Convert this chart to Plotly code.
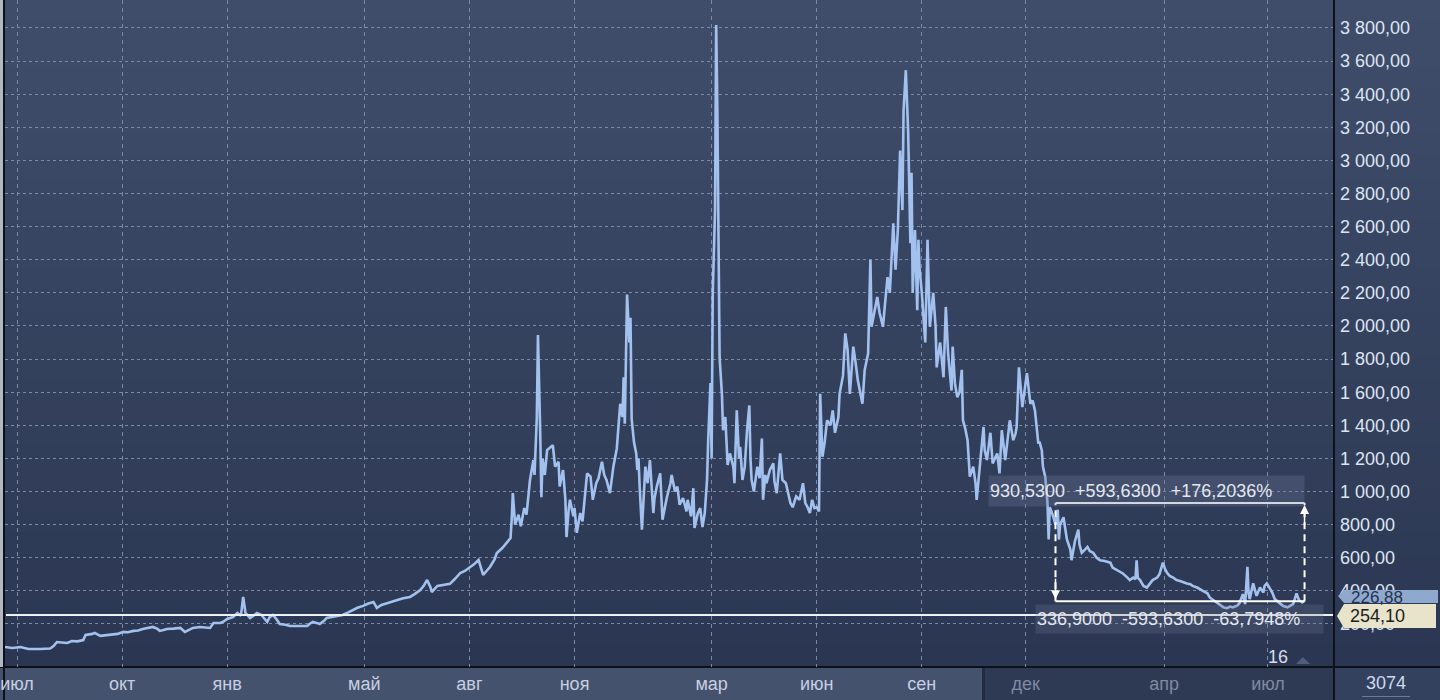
import pandas as pd
import plotly.graph_objects as go

# ---------------- data ----------------
start_date = "2020-07-01"

day_offsets = [
    -11, -4, 3, 10, 20, 29, 32, 35, 39, 44, 48, 53, 58, 60, 66, 68, 73, 78, 84, 88,
    93, 97, 102, 106, 110, 115, 119, 123, 125, 129, 131, 137, 143, 147, 151, 154, 160, 165, 169, 172,
    178, 181, 184, 189, 193, 196, 198, 200, 204, 207, 210, 214, 219, 221, 224, 227, 230, 235, 239, 248,
    254, 256, 259, 263, 265, 269, 271, 278, 285, 290, 294, 298, 303, 307, 312, 315, 319, 324, 328, 333,
    338, 344, 348, 353, 356, 359, 362, 363, 368, 373, 379, 383, 388, 392, 397, 400, 404, 406, 408, 411,
    414, 418, 420, 425, 429, 432, 433, 434, 436, 439, 441, 444, 446, 449, 452, 453, 455, 456, 458, 459,
    460, 462, 464, 467, 469, 471, 474, 475, 478, 480, 481, 483, 484, 487, 488, 490, 493, 495, 497, 499,
    502, 504, 507, 509, 512, 514, 516, 519, 522, 525, 528, 530, 531, 532, 534, 536, 537, 538, 540, 542,
    543, 544, 545, 547, 550, 552, 554, 557, 558, 560, 563, 565, 567, 569, 572, 573, 576, 578, 580, 583,
    586, 587, 590, 592, 593, 596, 598, 600, 602, 604, 605, 607, 608, 609, 611, 612, 613, 614, 615, 617,
    618, 620, 621, 622, 624, 627, 628, 630, 632, 633, 635, 637, 639, 641, 642, 643, 645, 648, 650, 652,
    653, 655, 656, 659, 662, 663, 665, 668, 670, 673, 677, 679, 682, 685, 688, 690, 692, 694, 696, 698,
    700, 702, 703, 705, 707, 709, 712, 714, 716, 719, 720, 723, 725, 727, 729, 732, 734, 736, 740, 742,
    745, 747, 748, 751, 753, 755, 758, 760, 762, 764, 767, 769, 771, 773, 775, 776, 778, 780, 782, 783,
    784, 786, 788, 789, 790, 792, 795, 797, 799, 802, 804, 805, 808, 811, 813, 815, 817, 818, 819, 821,
    823, 825, 827, 828, 830, 832, 834, 837, 839, 840, 843, 846, 847, 849, 852, 854, 856, 858, 860, 862,
    865, 867, 869, 872, 874, 875, 877, 880, 882, 884, 887, 889, 891, 894, 895, 897, 898, 900, 902, 903,
    904, 907, 909, 911, 912, 913, 916, 918, 919, 922, 923, 926, 929, 930, 932, 935, 937, 939, 942, 945,
    948, 952, 957, 959, 963, 965, 968, 972, 974, 977, 979, 980, 981, 983, 986, 989, 992, 994, 998, 1000,
    1003, 1005, 1007, 1009, 1012, 1015, 1018, 1021, 1024, 1027, 1029, 1033, 1035, 1038, 1042, 1044, 1047, 1050, 1053, 1056,
    1059, 1062, 1064, 1068, 1070, 1073, 1075, 1077, 1078, 1079, 1082, 1084, 1085, 1088, 1091, 1092, 1094, 1097, 1099, 1101,
    1103, 1106, 1108, 1112, 1115, 1117, 1120, 1122, 1125, 1127,
]

prices = [
    61, 55, 61, 49, 49, 52, 67, 91, 88, 85, 97, 95, 103, 134, 140, 146, 128, 132, 134, 140,
    152, 150, 158, 160, 170, 175, 182, 170, 158, 165, 170, 172, 176, 152, 165, 176, 182, 180, 176, 206,
    206, 215, 230, 242, 266, 250, 363, 266, 236, 250, 266, 254, 212, 240, 254, 230, 200, 195, 188, 188,
    188, 200, 212, 205, 200, 220, 236, 245, 254, 270, 285, 298, 309, 322, 333, 297, 315, 327, 335, 345,
    355, 363, 380, 405, 430, 466, 420, 393, 430, 437, 442, 470, 508, 520, 544, 560, 587, 540, 496, 520,
    544, 590, 629, 660, 695, 719, 830, 990, 800, 860, 790, 900, 860, 1069, 1190, 1100, 1450, 1945, 1350, 965,
    1200, 1100, 1250, 1268, 1280, 1150, 1180, 1030, 1130, 950, 725, 900, 950, 850, 900, 750, 870, 820, 950, 1110,
    1090, 950, 1050, 1080, 1180, 1100, 1070, 990, 1150, 1260, 1530, 1450, 1690, 1410, 2190, 1900, 2050, 1440, 1300, 1230,
    1130, 1200, 1030, 770, 1150, 1050, 1190, 870, 960, 1030, 1110, 830, 900, 970, 1050, 1100, 1000, 1030, 920, 960,
    880, 950, 850, 1020, 780, 870, 900, 785, 870, 1070, 1310, 1655, 1200, 2200, 2700, 3818, 3311, 2300, 1810, 1590,
    1370, 1450, 1250, 1160, 1230, 1150, 1050, 1490, 1200, 1270, 1070, 1150, 1370, 1520, 1200, 1070, 1000, 1150, 1080, 1320,
    950, 1100, 1050, 1130, 1170, 1060, 990, 1230, 1070, 1050, 930, 905, 970, 950, 1050, 930, 905, 870, 950, 900,
    905, 880, 1590, 1210, 1300, 1430, 1400, 1490, 1355, 1450, 1590, 1700, 1955, 1855, 1590, 1875, 1780, 1670, 1530, 1735,
    1835, 2400, 1995, 2100, 2175, 2080, 1995, 2150, 2295, 2200, 2620, 2340, 2580, 3060, 2700, 3300, 3545, 3180, 2500, 2925,
    2200, 2580, 2095, 2520, 2350, 2200, 1900, 2520, 1995, 2200, 2000, 1750, 1900, 1690, 2115, 1835, 1700, 1610, 1875, 1650,
    1570, 1600, 1735, 1430, 1380, 1310, 1090, 1150, 1050, 950, 1170, 1390, 1250, 1190, 1355, 1170, 1200, 1230, 1110, 1370,
    1190, 1300, 1430, 1310, 1350, 1390, 1750, 1510, 1600, 1715, 1530, 1550, 1490, 1290, 1300, 1250, 1150, 1090, 930, 710,
    905, 850, 800, 890, 710, 800, 845, 760, 710, 650, 585, 700, 770, 680, 630, 650, 665, 640, 630, 600,
    585, 580, 570, 540, 525, 520, 505, 480, 465, 480, 470, 585, 480, 465, 430, 420, 450, 465, 480, 500,
    570, 530, 505, 490, 480, 465, 460, 450, 445, 440, 430, 420, 410, 400, 385, 360, 345, 330, 315, 300,
    295, 305, 300, 310, 325, 380, 320, 545, 385, 350, 445, 400, 370, 420, 390, 430, 445, 410, 385, 350,
    340, 325, 310, 300, 310, 320, 385, 345, 330, 340,
]

x_tick_dates = ["2020-07-01", "2020-10-01", "2021-01-01", "2021-05-01", "2021-08-01", "2021-11-01",
                "2022-03-01", "2022-06-01", "2022-09-01", "2022-12-01", "2023-04-01", "2023-07-01"]
x_tick_labels = ["июл", "окт", "янв", "май", "авг", "ноя", "мар", "июн", "сен", "дек", "апр", "июл"]
x_tick_dimmed = [False, False, False, False, False, False, False, False, False, True, True, True]

y_tick_values = [200, 400, 600, 800, 1000, 1200, 1400, 1600, 1800, 2000,
                 2200, 2400, 2600, 2800, 3000, 3200, 3400, 3600, 3800]

level_price = 254.10
last_price = 226.88
measure_high = 930.53
measure_low = 336.90
measure_start = "2022-12-27"
measure_end = "2023-08-02"
bars_count = "3074"
counter_label = "16"

# ---------------- helpers ----------------
dates = pd.Timestamp(start_date) + pd.to_timedelta(day_offsets, unit="D")

W, H = 1440, 700
ML, MR, MT, MB = 5, 107, 0, 33
PW, PH = W - ML - MR, H - MT - MB


def px(x):
    return (x - ML) / PW


def py(y):
    return (H - MB - y) / PH


def fmt(v, nd):
    return f"{v:.{nd}f}".replace(".", ",")


FONT = "Liberation Sans, Arial, sans-serif"

fig = go.Figure()
fig.add_trace(go.Scatter(
    x=dates, y=prices, mode="lines",
    line=dict(color="#a3c1ee", width=2.6),
    hoverinfo="skip", showlegend=False,
))

shapes = []
# gradient background
top_c = (63, 77, 107)
bot_c = (43, 55, 82)
N = 30
for i in range(N):
    t = i / (N - 1)
    c = tuple(round(top_c[k] + (bot_c[k] - top_c[k]) * t) for k in range(3))
    y0 = i * (H - MB) / N
    y1 = (i + 1) * (H - MB) / N + 1
    shapes.append(dict(type="rect", xref="paper", yref="paper", layer="below",
                       x0=px(0), x1=px(W), y0=py(y1), y1=py(y0),
                       fillcolor=f"rgb{c}", line_width=0))


def prect(x0, y0, x1, y1, color, layer="below"):
    shapes.append(dict(type="rect", xref="paper", yref="paper", layer=layer,
                       x0=px(x0), x1=px(x1), y0=py(y1), y1=py(y0),
                       fillcolor=color, line_width=0))


prect(0, 667, 982, 700, "rgb(69,82,110)")
prect(982, 667, 985, 700, "rgb(35,43,60)")
prect(985, 667, 1335, 700, "rgb(46,57,84)")
prect(1335, 667, 1440, 700, "rgb(52,65,94)")
prect(0, 666, 1440, 668, "rgb(14,17,24)")
prect(1333, 0, 1335, 700, "rgb(14,17,24)")
prect(0, 0, 3, 667, "rgb(178,184,194)")
prect(3, 0, 5, 700, "rgb(14,17,24)")
prect(1362, 696, 1410, 697, "rgb(110,122,148)")

# level line
shapes.append(dict(type="line", xref="paper", yref="y", layer="above",
                   x0=px(6), x1=1.0, y0=level_price, y1=level_price,
                   line=dict(color="#f0f0f0", width=2)))

# measurement box
shapes.append(dict(type="line", xref="x", yref="y", x0=measure_start, x1=measure_end,
                   y0=measure_high, y1=measure_high, line=dict(color="white", width=2)))
shapes.append(dict(type="line", xref="x", yref="y", x0=measure_start, x1=measure_end,
                   y0=measure_low, y1=measure_low, line=dict(color="white", width=2)))
shapes.append(dict(type="line", xref="x", yref="y", x0=measure_start, x1=measure_start,
                   y0=measure_low, y1=measure_high, line=dict(color="white", width=2, dash="7px,5px")))
shapes.append(dict(type="line", xref="x", yref="y", x0=measure_end, x1=measure_end,
                   y0=measure_low, y1=measure_high, line=dict(color="white", width=2, dash="7px,5px")))


def ppath(pts, color):
    d = "M " + " L ".join(f"{px(a)},{py(b)}" for a, b in pts) + " Z"
    shapes.append(dict(type="path", xref="paper", yref="paper", layer="above",
                       path=d, fillcolor=color, line_width=0))


ppath([(1338, 596), (1344, 590), (1438, 590), (1438, 603), (1344, 603)], "rgb(142,168,206)")
ppath([(1337, 616), (1344, 604), (1436, 604), (1436, 628), (1344, 628)], "rgb(232,228,204)")
ppath([(1296, 664), (1303, 657), (1310, 664)], "rgba(120,132,158,0.5)")

diff = measure_high - measure_low
up_pct = diff / measure_low * 100
down_pct = -diff / measure_high * 100
nb = "\u00a0\u00a0"
top_text = f"{fmt(measure_high, 4)}{nb}+{fmt(diff, 4)}{nb}+{fmt(up_pct, 4)}%"
bot_text = f"{fmt(measure_low, 4)}{nb}-{fmt(diff, 4)}{nb}{fmt(down_pct, 4)}%"

annotations = [
    dict(xref="paper", yref="paper", x=px(988), y=py(491), xanchor="left", yanchor="middle",
         text=top_text, showarrow=False, width=313, height=28, align="left",
         bgcolor="rgba(110,124,152,0.3)", font=dict(family=FONT, size=18, color="#e2e7f0")),
    dict(xref="paper", yref="paper", x=px(1035), y=py(619), xanchor="left", yanchor="middle",
         text=bot_text, showarrow=False, width=285, height=26, align="left",
         bgcolor="rgba(110,124,152,0.25)", font=dict(family=FONT, size=18, color="#e2e7f0")),
    dict(xref="x", yref="y", x=measure_start, y=measure_low, ax=0, ay=-24, text="",
         showarrow=True, arrowhead=2, arrowsize=1.2, arrowwidth=1.5, arrowcolor="white", standoff=2),
    dict(xref="x", yref="y", x=measure_end, y=measure_high, ax=0, ay=24, text="",
         showarrow=True, arrowhead=2, arrowsize=1.2, arrowwidth=1.5, arrowcolor="white", standoff=2),
    dict(xref="paper", yref="paper", x=px(1349), y=py(597), xanchor="left", yanchor="middle",
         text=fmt(last_price, 2), showarrow=False, font=dict(family=FONT, size=17, color="#24324e")),
    dict(xref="paper", yref="paper", x=px(1348), y=py(616), xanchor="left", yanchor="middle",
         text=fmt(level_price, 2), showarrow=False, font=dict(family=FONT, size=18, color="#1c1c1c")),
    dict(xref="paper", yref="paper", x=px(1278), y=py(657), xanchor="center", yanchor="middle",
         text=counter_label, showarrow=False, font=dict(family=FONT, size=18, color="#d6dde9")),
    dict(xref="paper", yref="paper", x=px(1386), y=py(683), xanchor="center", yanchor="middle",
         text=bars_count, showarrow=False, font=dict(family=FONT, size=18, color="#cdd9ee")),
]

ticktext = [
    f'<span style="color:#7f8aa2">{t}</span>' if dim else t
    for t, dim in zip(x_tick_labels, x_tick_dimmed)
]

fig.update_layout(
    width=W, height=H,
    margin=dict(l=ML, r=MR, t=MT, b=MB, pad=0),
    paper_bgcolor="rgb(50,62,90)",
    plot_bgcolor="rgba(0,0,0,0)",
    separators=", ",
    font=dict(family=FONT),
    showlegend=False,
    shapes=shapes,
    annotations=annotations,
    xaxis=dict(
        type="date",
        range=["2020-06-20 12:00", "2023-08-26 21:36"],
        tickvals=x_tick_dates, ticktext=ticktext,
        showgrid=True, gridcolor="#7b89a6", gridwidth=1, griddash="4px,4px",
        ticks="", ticklabelstandoff=4, zeroline=False, showline=False,
        tickfont=dict(family=FONT, size=18, color="#c7cfe0"),
        fixedrange=True,
    ),
    yaxis=dict(
        side="right", range=[-60, 3969],
        tickvals=y_tick_values, tickformat=",.2f",
        showgrid=True, gridcolor="#7b89a6", gridwidth=1, griddash="3px,3px",
        ticks="", ticklabelstandoff=6, zeroline=False, showline=False,
        tickfont=dict(family=FONT, size=18, color="#dde5f2"),
        fixedrange=True,
    ),
)

fig.write_html(
    "out.html",
    config={"displayModeBar": False},
    post_script="document.body.style.margin='0';document.body.style.overflow='hidden';",
)
